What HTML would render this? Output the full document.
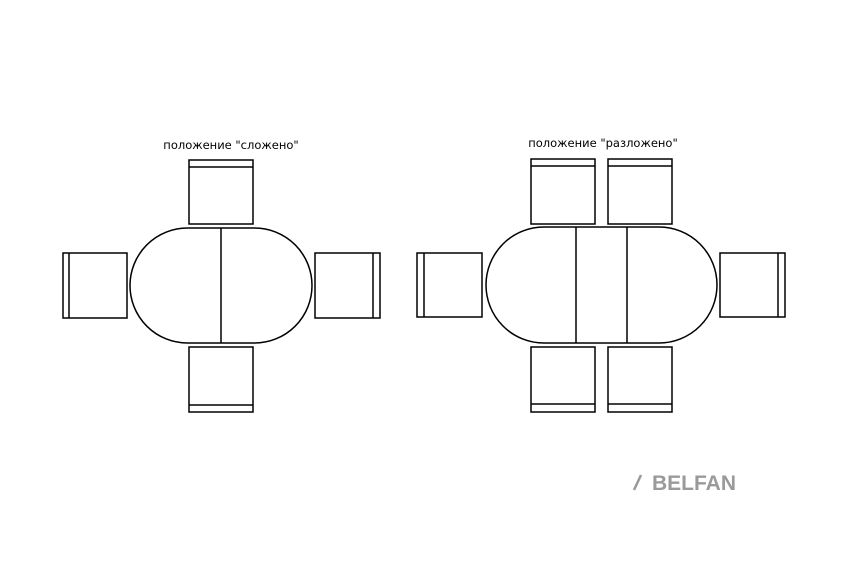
<!DOCTYPE html>
<html><head><meta charset="utf-8"><style>html,body{margin:0;padding:0;background:#fff;}</style></head>
<body>
<svg width="843" height="568" viewBox="0 0 843 568" xmlns="http://www.w3.org/2000/svg">
<rect width="843" height="568" fill="#fff"/>
<g fill="none" stroke="#000" stroke-width="1.5">
<rect x="189" y="160" width="64" height="64"/><line x1="189" y1="167" x2="253" y2="167"/>
<rect x="189" y="347" width="64" height="65"/><line x1="189" y1="405" x2="253" y2="405"/>
<rect x="63" y="253" width="64" height="65"/><line x1="69" y1="253" x2="69" y2="318"/>
<rect x="315" y="253" width="65" height="65"/><line x1="373" y1="253" x2="373" y2="318"/>
<rect x="130" y="228" width="182" height="115" rx="57.5" ry="57.5"/>
<line x1="221" y1="228" x2="221" y2="343"/>
<rect x="531" y="159" width="64" height="65"/><line x1="531" y1="166" x2="595" y2="166"/>
<rect x="608" y="159" width="64" height="65"/><line x1="608" y1="166" x2="672" y2="166"/>
<rect x="531" y="347" width="64" height="65"/><line x1="531" y1="404" x2="595" y2="404"/>
<rect x="608" y="347" width="64" height="65"/><line x1="608" y1="404" x2="672" y2="404"/>
<rect x="417" y="253" width="65" height="64"/><line x1="424" y1="253" x2="424" y2="317"/>
<rect x="720" y="253" width="65" height="64"/><line x1="778" y1="253" x2="778" y2="317"/>
<rect x="486" y="227" width="231" height="116" rx="58" ry="58"/>
<line x1="576" y1="227" x2="576" y2="343"/>
<line x1="627" y1="227" x2="627" y2="343"/>
</g>
<g font-family="'DejaVu Sans', 'Liberation Sans', sans-serif" font-size="11.5" fill="#000" text-anchor="middle">
<text x="231" y="149">положение "сложено"</text>
<text x="603" y="147">положение "разложено"</text>
</g>
<line x1="634" y1="490" x2="641" y2="475" stroke="#9a9a9a" stroke-width="2.5"/>
<text x="652" y="490" font-family="'Liberation Sans', sans-serif" font-weight="bold" font-size="21" fill="#9a9a9a" textLength="84" lengthAdjust="spacingAndGlyphs">BELFAN</text>
</svg>
</body></html>
